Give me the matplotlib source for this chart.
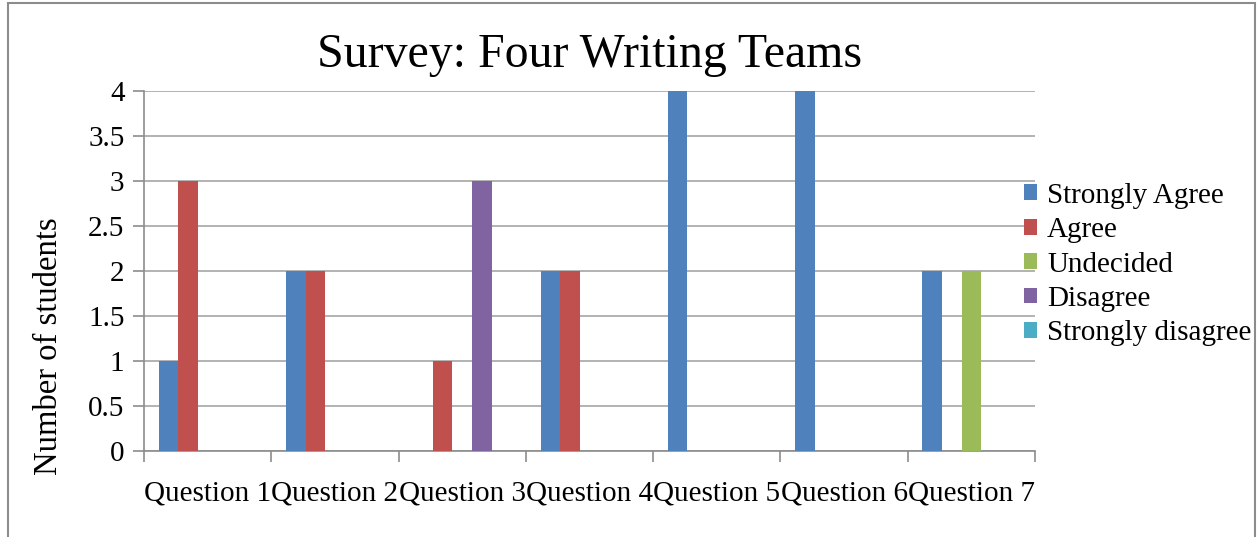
import matplotlib
matplotlib.use("Agg")
import matplotlib.pyplot as plt
from matplotlib.patches import Rectangle, Patch
import numpy as np

categories = ["Question 1", "Question 2", "Question 3", "Question 4",
              "Question 5", "Question 6", "Question 7"]
series_names = ["Strongly Agree", "Agree", "Undecided", "Disagree", "Strongly disagree"]
strongly_agree = [1, 2, 0, 2, 4, 4, 2]
agree = [3, 2, 1, 2, 0, 0, 0]
undecided = [0, 0, 0, 0, 0, 0, 2]
disagree = [0, 0, 3, 0, 0, 0, 0]
strongly_disagree = [0, 0, 0, 0, 0, 0, 0]
yticks = [0, 0.5, 1, 1.5, 2, 2.5, 3, 3.5, 4]
ytick_labels = ["0", "0.5", "1", "1.5", "2", "2.5", "3", "3.5", "4"]
colors = ["#4F81BD", "#C0504D", "#9BBB59", "#8064A2", "#4BACC6"]

W, H = 1260, 537
plt.rcParams['font.family'] = ['Liberation Serif', 'DejaVu Serif']

fig = plt.figure(figsize=(W / 100, H / 100), dpi=100)
# outer border
fig.patches.append(Rectangle((8 / W, -0.05), (1255 - 8) / W, (H - 3) / H + 0.05,
                             transform=fig.transFigure, fill=False,
                             edgecolor="#8c8c8c", linewidth=1.5))

ax = fig.add_axes([144 / W, (H - 451) / H, (1035 - 144) / W, (451 - 91) / H])

all_series = [strongly_agree, agree, undecided, disagree, strongly_disagree]
n = len(all_series)
bw = 1 / 6.5
x = np.arange(len(categories))
for i, (vals, c) in enumerate(zip(all_series, colors)):
    offs = (i - (n - 1) / 2) * bw
    ax.bar(x + offs, vals, width=bw, color=c, zorder=3, linewidth=0)

ax.set_xlim(-0.5, len(categories) - 0.5)
ax.set_ylim(0, 4)
ax.set_yticks(yticks)
ax.set_yticklabels(ytick_labels, fontsize=21)
ax.set_xticks(x)
ax.set_xticklabels(categories, fontsize=21)
ax.tick_params(axis='x', length=0, pad=21)
ax.set_xticks(np.arange(len(categories) + 1) - 0.5, minor=True)
ax.tick_params(axis='x', which='minor', length=8, color="#8c8c8c", width=1.2)
ax.tick_params(axis='y', length=8, color="#8c8c8c", width=1.2, pad=6)
ax.grid(axis='y', color="#a6a6a6", linewidth=1.2, zorder=0)
for s in ["top", "right"]:
    ax.spines[s].set_visible(False)
for s in ["left", "bottom"]:
    ax.spines[s].set_color("#8c8c8c")
    ax.spines[s].set_linewidth(1.2)

fig.text(590 / W, (H - 55) / H, "Survey: Four Writing Teams", fontsize=34.5,
         ha="center", va="center")
fig.text(49 / W, (H - 346) / H, "Number of students", fontsize=23.5,
         rotation=90, ha="center", va="center")

handles = [Patch(facecolor=c, edgecolor="none") for c in colors]
fig.legend(handles, series_names, loc="upper left",
           bbox_to_anchor=(1012 / W, (H - 171) / H), frameon=False,
           fontsize=21, handlelength=0.45, handleheight=0.45,
           handletextpad=0.35, labelspacing=0.29, borderaxespad=0)

fig.savefig("out.png", dpi=100)
